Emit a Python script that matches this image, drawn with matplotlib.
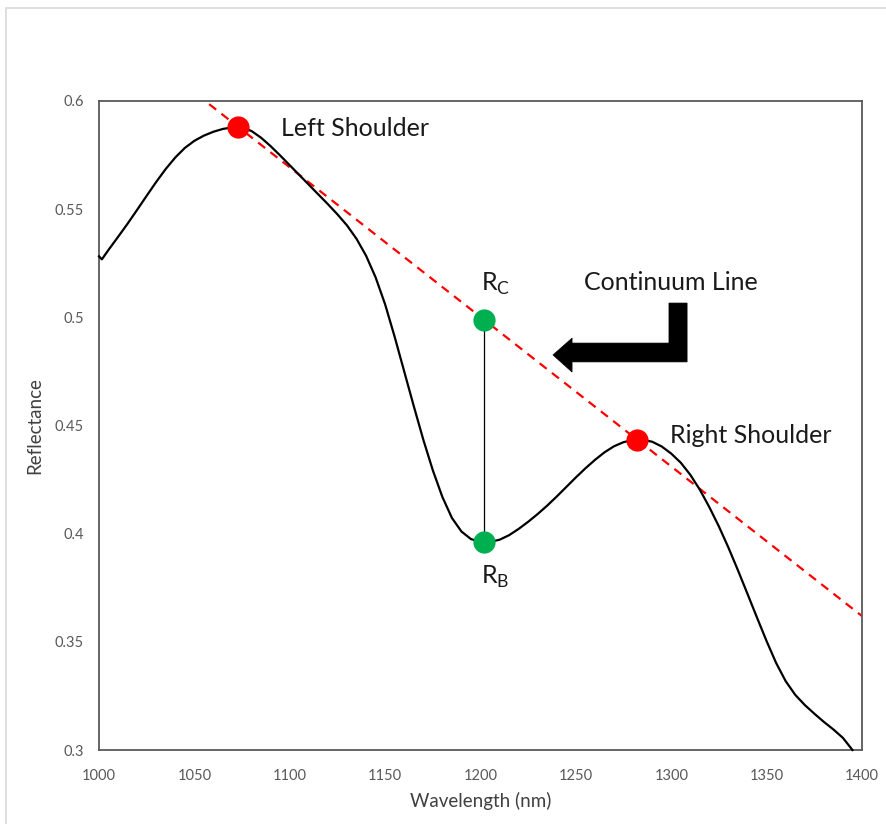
import matplotlib
matplotlib.use("Agg")
import matplotlib.pyplot as plt
import numpy as np
from matplotlib.patches import Polygon, Rectangle

# Reflectance spectrum (wavelength in nm, reflectance)
wavelength = [1000, 1001.5, 1005, 1010, 1015, 1020, 1025, 1030, 1035, 1040, 1045, 1050,
              1055, 1060, 1065, 1070, 1075, 1080, 1085, 1090, 1095, 1100, 1105, 1110,
              1115, 1120, 1125, 1130, 1135, 1140, 1145, 1150, 1155, 1160, 1165, 1170,
              1175, 1180, 1185, 1190, 1195, 1200, 1205, 1210, 1215, 1220, 1225, 1230,
              1235, 1240, 1245, 1250, 1255, 1260, 1265, 1270, 1275, 1280, 1285, 1290,
              1295, 1300, 1305, 1310, 1315, 1320, 1325, 1330, 1335, 1340, 1345, 1350,
              1355, 1360, 1365, 1370, 1375, 1380, 1385, 1390, 1395]
reflectance = [0.5282, 0.5268, 0.5312, 0.5372, 0.5433, 0.5497, 0.5562, 0.5626, 0.5686,
               0.5739, 0.5783, 0.5816, 0.5840, 0.5858, 0.5871, 0.5878, 0.5878, 0.5861,
               0.5830, 0.5791, 0.5748, 0.5703, 0.5658, 0.5613, 0.5568, 0.5523, 0.5476,
               0.5425, 0.5363, 0.5285, 0.5185, 0.5060, 0.4910, 0.4750, 0.4590, 0.4435,
               0.4293, 0.4170, 0.4073, 0.4010, 0.3975, 0.3962, 0.3962, 0.3972, 0.3993,
               0.4022, 0.4055, 0.4091, 0.4130, 0.4172, 0.4216, 0.4260, 0.4302, 0.4341,
               0.4376, 0.4404, 0.4423, 0.4433, 0.4434, 0.4425, 0.4403, 0.4370, 0.4328,
               0.4272, 0.4203, 0.4122, 0.4033, 0.3935, 0.3830, 0.3721, 0.3611, 0.3503,
               0.3402, 0.3318, 0.3255, 0.3208, 0.3168, 0.3130, 0.3095, 0.3056, 0.3000]

# Shoulders of the absorption feature
shoulder_wl = [1073, 1282]
shoulder_refl = [0.5880, 0.4435]

# Band centre
band_wl = 1202
band_refl = 0.3962

x_ticks = [1000, 1050, 1100, 1150, 1200, 1250, 1300, 1350, 1400]
y_ticks = [0.3, 0.35, 0.4, 0.45, 0.5, 0.55, 0.6]
y_tick_labels = ["0.3", "0.35", "0.4", "0.45", "0.5", "0.55", "0.6"]

plt.rcParams["font.family"] = ["Lato", "DejaVu Sans"]

fig = plt.figure(figsize=(8.86, 8.24), dpi=100)
fig.patch.set_facecolor("white")
fig.patches.append(Rectangle((6 / 886, -0.1), 1.2, 1.1 - 8 / 824,
                             transform=fig.transFigure, fill=False,
                             edgecolor="#d9d9d9", linewidth=1.2))

ax = fig.add_axes([99 / 886, 1 - 750 / 824, (862 - 99) / 886, (750 - 101) / 824])
ax.set_xlim(1000, 1400)
ax.set_ylim(0.3, 0.6)

# continuum line through both shoulders, extended across the plot
slope = (shoulder_refl[1] - shoulder_refl[0]) / (shoulder_wl[1] - shoulder_wl[0])
cx = np.array([1000, 1400])
cy = shoulder_refl[0] + slope * (cx - shoulder_wl[0])
ax.plot(cx, cy, color="#ff0000", linestyle=(0, (4, 3)), linewidth=1.6, zorder=2)

ax.plot(wavelength, reflectance, color="black", linewidth=1.6, zorder=3,
        solid_joinstyle="round", clip_on=False)

# continuum value at the band centre
rc = shoulder_refl[0] + slope * (band_wl - shoulder_wl[0])
ax.plot([band_wl, band_wl], [band_refl, rc], color="black", linewidth=0.9, zorder=3)

ax.plot(shoulder_wl, shoulder_refl, "o", color="#ff0000", markersize=16,
        markeredgewidth=0, zorder=5)
ax.plot([band_wl, band_wl], [rc, band_refl], "o", color="#00b050", markersize=16,
        markeredgewidth=0, zorder=5)

txt = dict(color="#1a1a1a", fontsize=18)
ax.text(1095.5, 0.5873, "Left Shoulder", ha="left", va="center", **txt)
ax.text(1299.5, 0.4455, "Right Shoulder", ha="left", va="center", **txt)
ax.text(1254.5, 0.5163, "Continuum Line", ha="left", va="center", **txt)
ax.text(band_wl - 1.5, 0.5155, r"R$_\mathregular{C}$", ha="left", va="center", **txt)
ax.text(band_wl - 1.5, 0.3800, r"R$_\mathregular{B}$", ha="left", va="center", **txt)

# bent block arrow pointing at the continuum line
arrow_x = [1238.0, 1248.0, 1248.0, 1298.8, 1298.8, 1308.3, 1308.3, 1248.0, 1248.0]
arrow_y = [0.4826, 0.4904, 0.4881, 0.4881, 0.5066, 0.5066, 0.4794, 0.4794, 0.4747]
ax.add_patch(Polygon(np.column_stack([arrow_x, arrow_y]), closed=True,
                     facecolor="black", edgecolor="black", linewidth=0.5, zorder=4))

ax.set_xticks(x_ticks)
ax.set_yticks(y_ticks)
ax.set_yticklabels(y_tick_labels)
ax.tick_params(axis="both", length=0, labelsize=10.5, colors="#595959")
ax.tick_params(axis="x", pad=14)
ax.tick_params(axis="y", pad=11)
for s in ax.spines.values():
    s.set_color("#595959")
    s.set_linewidth(1.3)

ax.set_xlabel("Wavelength (nm)", fontsize=13.5, color="#404040", labelpad=6)
ax.set_ylabel("Reflectance", fontsize=13.5, color="#404040", labelpad=8)

fig.savefig("out.png", dpi=100, facecolor="white")
